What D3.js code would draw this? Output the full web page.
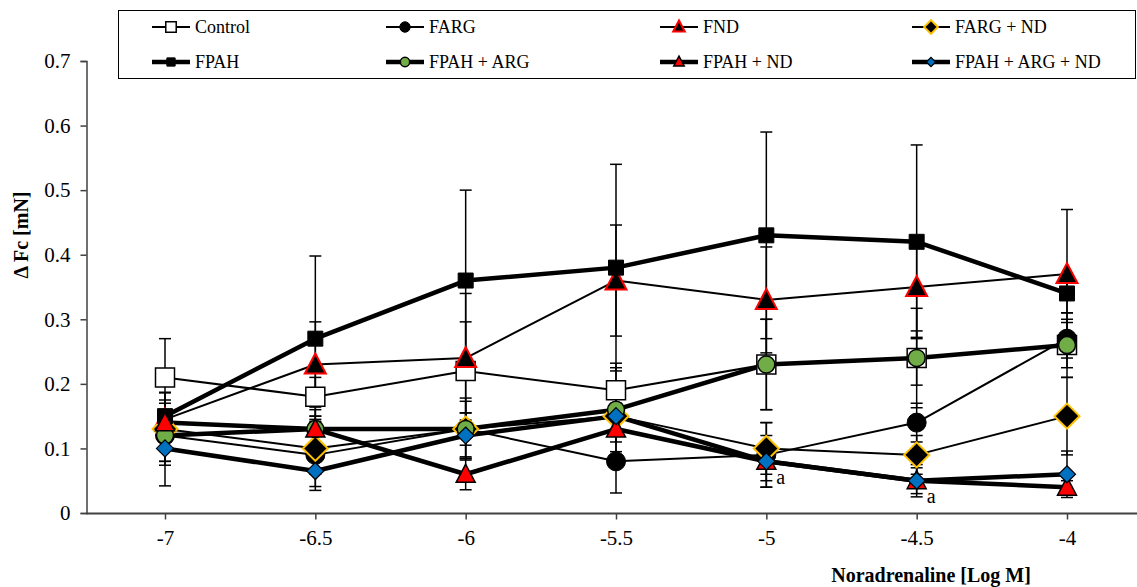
<!DOCTYPE html>
<html><head><meta charset="utf-8">
<script src="https://cdn.jsdelivr.net/npm/d3@7"></script>
<style>html,body{margin:0;padding:0;background:#fff;}svg{display:block;}
text{font-family:"Liberation Serif","Times New Roman",Times,serif !important;}</style>
</head><body>
<svg id="c" width="1137" height="587"></svg>
<script>
const xValues = [-7, -6.5, -6, -5.5, -5, -4.5, -4];
const xTickLabels = ["-7", "-6.5", "-6", "-5.5", "-5", "-4.5", "-4"];
const yTicks = [0, 0.1, 0.2, 0.3, 0.4, 0.5, 0.6, 0.7];
const seriesNames = ["Control", "FARG", "FND", "FARG + ND", "FPAH", "FPAH + ARG", "FPAH + ND", "FPAH + ARG + ND"];

const controlVals   = [0.21, 0.18, 0.22, 0.19, 0.23, 0.24, 0.26];
const controlErr    = [0.06, 0.03, 0.076, 0.042, 0.07, 0.042, 0.035];
const fargVals      = [0.12, 0.09, 0.13, 0.08, 0.09, 0.14, 0.27];
const fargErr       = [0.04, 0.055, 0.048, 0.049, 0.05, 0.03, 0.03];
const fndVals       = [0.145, 0.23, 0.24, 0.36, 0.33, 0.35, 0.37];
const fndErr        = [0.03, 0.066, 0.10, 0.086, 0.082, 0.078, 0.10];
const fargNdVals    = [0.13, 0.10, 0.13, 0.15, 0.10, 0.09, 0.15];
const fargNdErr     = [0.056, 0.04, 0.025, 0.03, 0.04, 0.03, 0.06];
const fpahVals      = [0.15, 0.27, 0.36, 0.38, 0.43, 0.42, 0.34];
const fpahErr       = [0.037, 0.128, 0.14, 0.16, 0.16, 0.15, 0.03];
const fpahArgVals   = [0.12, 0.13, 0.13, 0.16, 0.23, 0.24, 0.26];
const fpahArgErr    = [0.04, 0.03, 0.043, 0.065, 0.07, 0.077, 0.05];
const fpahNdVals    = [0.14, 0.13, 0.06, 0.13, 0.08, 0.05, 0.04];
const fpahNdErr     = [0.03, 0.02, 0.024, 0.02, 0.03, 0.025, 0.01];
const fpahArgNdVals = [0.10, 0.065, 0.12, 0.15, 0.08, 0.05, 0.06];
const fpahArgNdErr  = [0.058, 0.024, 0.035, 0.02, 0.04, 0.02, 0.036];

const annotations = [{x: -5, y: 0.052, text: "a"}, {x: -4.5, y: 0.023, text: "a"}];

const styles = [
  {shape: "square",   size: 19, fill: "#fff",    stroke: "#000",    sw: 1.5, lw: 2},
  {shape: "circle",   size: 19, fill: "#000",    stroke: "#000",    sw: 1,   lw: 2},
  {shape: "triangle", size: 21, fill: "#000",    stroke: "#ff0000", sw: 2,   lw: 2},
  {shape: "diamond",  size: 25, fill: "#000",    stroke: "#ffc000", sw: 2,   lw: 2},
  {shape: "square",   size: 15, fill: "#000",    stroke: "#000",    sw: 1,   lw: 4.5},
  {shape: "circle",   size: 17, fill: "#70ad47", stroke: "#000",    sw: 1.5, lw: 4.5},
  {shape: "triangle", size: 19, fill: "#ff0000", stroke: "#000",    sw: 1.5, lw: 4.5},
  {shape: "diamond",  size: 17, fill: "#0070c0", stroke: "#000",    sw: 1.2, lw: 4.5}
];
const allVals = [controlVals, fargVals, fndVals, fargNdVals, fpahVals, fpahArgVals, fpahNdVals, fpahArgNdVals];
const allErr  = [controlErr, fargErr, fndErr, fargNdErr, fpahErr, fpahArgErr, fpahNdErr, fpahArgNdErr];
const series = seriesNames.map((n, i) => ({name: n, vals: allVals[i], err: allErr[i], st: styles[i]}));

const svg = d3.select("#c");
const x = d3.scaleLinear().domain([-7, -4]).range([165, 1067]);
const y = d3.scaleLinear().domain([0, 0.7]).range([513, 61]);
const axisColor = "#404040";

function markerPath(shape, s) {
  const h = s / 2;
  if (shape === "square") return `M${-h},${-h}H${h}V${h}H${-h}Z`;
  if (shape === "diamond") return `M0,${-h}L${h},0L0,${h}L${-h},0Z`;
  if (shape === "triangle") { const t = s * 0.95; return `M0,${-t/2 - 1}L${h},${t/2 - 1}L${-h},${t/2 - 1}Z`; }
  return null;
}
function drawMarker(g, st, cx, cy, scale) {
  const s = st.size * scale;
  if (st.shape === "circle") {
    g.append("circle").attr("cx", cx).attr("cy", cy).attr("r", s / 2)
      .attr("fill", st.fill).attr("stroke", st.stroke).attr("stroke-width", st.sw);
  } else {
    g.append("path").attr("d", markerPath(st.shape, s)).attr("transform", `translate(${cx},${cy})`)
      .attr("fill", st.fill).attr("stroke", st.stroke).attr("stroke-width", st.sw).attr("stroke-linejoin", "miter");
  }
}

// Axes
const yAxis = d3.axisLeft(y).tickValues(yTicks).tickSize(6).tickFormat(d3.format("~g"));
const gy = svg.append("g").attr("transform", "translate(86.5,0)").call(yAxis);
gy.select(".domain").attr("stroke", axisColor).attr("stroke-width", 1.5).attr("d", "M-6,513.5H0.5V61.5H-6");
gy.selectAll(".tick line").attr("stroke", axisColor).attr("stroke-width", 1.5);
gy.selectAll(".tick text").attr("font-size", 21).attr("fill", "#000").attr("x", -16);

const xAxis = d3.axisBottom(x).tickValues(xValues).tickSize(6).tickFormat((d, i) => xTickLabels[i]);
const gx = svg.append("g").attr("transform", "translate(0,513.5)").call(xAxis);
gx.select(".domain").attr("stroke", axisColor).attr("stroke-width", 2).attr("d", "M86,0H1137");
gx.selectAll(".tick line").attr("stroke", axisColor).attr("stroke-width", 1.5);
gx.selectAll(".tick text").attr("font-size", 21).attr("fill", "#000").attr("y", 17);

svg.append("text").attr("transform", "translate(28,235) rotate(-90)").attr("text-anchor", "middle")
  .attr("font-weight", "bold").attr("font-size", 20).text("Δ Fc [mN]");
svg.append("text").attr("x", 931).attr("y", 582).attr("text-anchor", "middle")
  .attr("font-weight", "bold").attr("font-size", 20).text("Noradrenaline [Log M]");

// Error bars
const gErr = svg.append("g");
series.forEach(s => {
  s.vals.forEach((v, i) => {
    const e = s.err[i];
    const cx = x(xValues[i]);
    gErr.append("line").attr("x1", cx).attr("x2", cx).attr("y1", y(v + e)).attr("y2", y(v - e))
      .attr("stroke", "#000").attr("stroke-width", 1.5);
    [v + e, v - e].forEach(w => gErr.append("line").attr("x1", cx - 6).attr("x2", cx + 6)
      .attr("y1", y(w)).attr("y2", y(w)).attr("stroke", "#000").attr("stroke-width", 1.5));
  });
});

// Lines
const line = d3.line().x((d, i) => x(xValues[i])).y(d => y(d));
const gLines = svg.append("g");
series.forEach(s => {
  gLines.append("path").attr("d", line(s.vals)).attr("fill", "none").attr("stroke", "#000")
    .attr("stroke-width", s.st.lw).attr("stroke-linejoin", "round");
});

// Markers
const gM = svg.append("g");
series.forEach(s => {
  s.vals.forEach((v, i) => drawMarker(gM, s.st, x(xValues[i]), y(v), 1));
});

// Annotations
annotations.forEach(a => svg.append("text").attr("x", x(a.x) + 10).attr("y", y(a.y) + 5)
  .attr("font-size", 20).text(a.text));

// Legend
svg.append("rect").attr("x", 118.5).attr("y", 10.5).attr("width", 1017).attr("height", 68)
  .attr("fill", "#fff").attr("stroke", "#000").attr("stroke-width", 1);
const legCols = [152, 386, 660, 912];
const legRows = [27, 62];
series.forEach((s, i) => {
  const col = legCols[i % 4], row = legRows[Math.floor(i / 4)];
  const g = svg.append("g");
  g.append("line").attr("x1", col).attr("x2", col + 38).attr("y1", row).attr("y2", row)
    .attr("stroke", "#000").attr("stroke-width", s.st.lw);
  drawMarker(g, s.st, col + 19, row, 0.55);
  g.append("text").attr("x", col + 43).attr("y", row + 6).attr("font-size", 18).text(s.name);
});
</script>
</body></html>
